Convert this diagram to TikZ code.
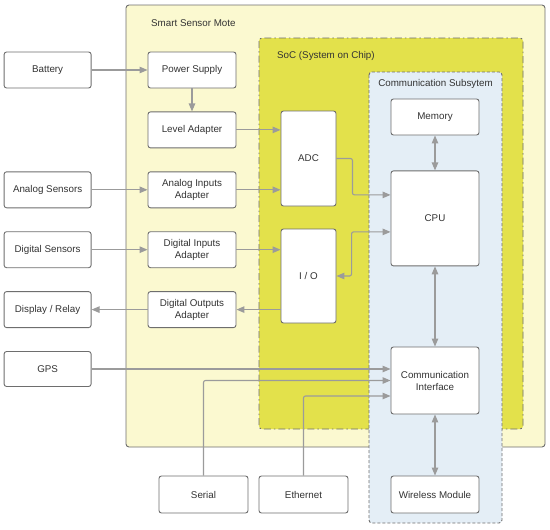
\documentclass[tikz,border=0pt]{standalone}
\usepackage{fontspec}
\setmainfont{Liberation Sans}
\usepackage{tikz}
\usetikzlibrary{positioning,arrows.meta}
\definecolor{SMtext}{HTML}{333333}
\definecolor{SMedge}{HTML}{6E6E6E}
\definecolor{SMarrow}{HTML}{9B9B9B}
\definecolor{SMmote}{HTML}{FBF9D0}
\definecolor{SMsoc}{HTML}{E3E14B}
\definecolor{SMcomm}{HTML}{E4EEF6}
\tikzset{
  partbox/.style={rounded corners=2.5pt, draw=SMedge, fill=white, line width=0.9pt, align=center, font=\fontsize{9.8}{12}\selectfont, text=SMtext, inner sep=2pt, minimum height=36pt},
  sidebox/.style={partbox, minimum width=87pt},
  adaptbox/.style={partbox, minimum width=88pt},
  chipbox/.style={partbox, minimum width=55pt},
  flowarr/.style={-{Triangle[length=8pt,width=6.5pt]}, line width=1.1pt, draw=SMarrow, rounded corners=2pt},
  bidiarr/.style={{Triangle[length=8pt,width=6.5pt]}-{Triangle[length=8pt,width=6.5pt]}, line width=1.1pt, draw=SMarrow, rounded corners=2pt},
  moteframe/.style={rounded corners=3pt, draw=SMedge, fill=SMmote, line width=0.9pt},
  socframe/.style={rounded corners=3pt, draw=SMedge, fill=SMsoc, line width=0.9pt, dash pattern=on 7pt off 3pt on 1.5pt off 3pt},
  commframe/.style={rounded corners=3pt, draw=SMedge, fill=SMcomm, line width=0.9pt, dash pattern=on 3pt off 2pt},
  framelabel/.style={font=\fontsize{9.8}{12}\selectfont, text=SMtext, inner sep=0pt}
}
\begin{document}
\begin{tikzpicture}[x=1pt, y=-1pt, node distance=23pt]
  \useasboundingbox (0,0) rectangle (550,530);
  \draw[moteframe] (126,5) rectangle (545,447);
  \draw[socframe] (259,38) rectangle (523,429);
  \draw[commframe] (369,72) rectangle (502,523);
  \node[framelabel, anchor=west] (motelbl) at (151,23) {Smart Sensor Mote};
  \node[framelabel, anchor=west] (soclbl) at (277,56) {SoC (System on Chip)};
  \node[framelabel] (commlbl) at (435.5,84) {Communication Subsytem};

  \node[adaptbox] (psu) at (192,70) {Power Supply};
  \node[adaptbox, below=of psu] (lvl) {Level Adapter};
  \node[adaptbox, below=of lvl] (ain) {Analog Inputs\\Adapter};
  \node[adaptbox, below=of ain] (din) {Digital Inputs\\Adapter};
  \node[adaptbox, below=of din] (dout) {Digital Outputs\\Adapter};
  \node[sidebox, left=56pt of psu] (bat) {Battery};
  \node[sidebox, left=56pt of ain] (ana) {Analog Sensors};
  \node[sidebox, left=56pt of din] (dig) {Digital Sensors};
  \node[sidebox, left=56pt of dout] (disp) {Display / Relay};
  \node[sidebox, below=of disp, minimum height=35pt] (gps) {GPS};

  \node[chipbox, minimum height=95pt] (adc) at (308.5,158.5) {ADC};
  \node[chipbox, minimum height=94pt] (io) at (308.5,276) {I / O};

  \node[adaptbox] (mem) at (435,117) {Memory};
  \node[adaptbox, minimum height=95pt, below=35pt of mem] (cpu) {CPU};
  \node[adaptbox, minimum height=67pt] (ci) at (435,380.5) {Communication\\Interface};
  \node[adaptbox, minimum height=37pt] (wl) at (435,494.5) {Wireless Module};
  \node[adaptbox, minimum width=89pt, minimum height=37pt] (ser) at (203.5,494.5) {Serial};
  \node[adaptbox, minimum width=89pt, minimum height=37pt] (eth) at (303.5,494.5) {Ethernet};

  \draw[flowarr] (bat) -- (psu);
  \draw[flowarr] (psu) -- (lvl);
  \draw[flowarr] (lvl) -- (lvl -| adc.west);
  \draw[flowarr] (ana) -- (ain);
  \draw[flowarr] (ain) -- (ain -| adc.west);
  \draw[flowarr] (dig) -- (din);
  \draw[flowarr] (din) -- (din -| io.west);
  \draw[flowarr] (io.west |- dout) -- (dout);
  \draw[flowarr] (dout) -- (disp);
  \draw[flowarr] (adc.east) -- ++(16,0) |- ([yshift=23.5pt]cpu.west);
  \draw[bidiarr] ([yshift=-13.5pt]cpu.west) -- ++(-39,0) |- (io.east);
  \draw[bidiarr] (mem) -- (cpu);
  \draw[bidiarr] (cpu) -- (ci);
  \draw[bidiarr] (ci) -- (wl);
  \draw[flowarr] (gps) -- (gps -| ci.west);
  \draw[flowarr] (ser) |- (ci.west);
  \draw[flowarr] (eth) |- ([yshift=-15.5pt]ci.west);
\end{tikzpicture}
\end{document}
